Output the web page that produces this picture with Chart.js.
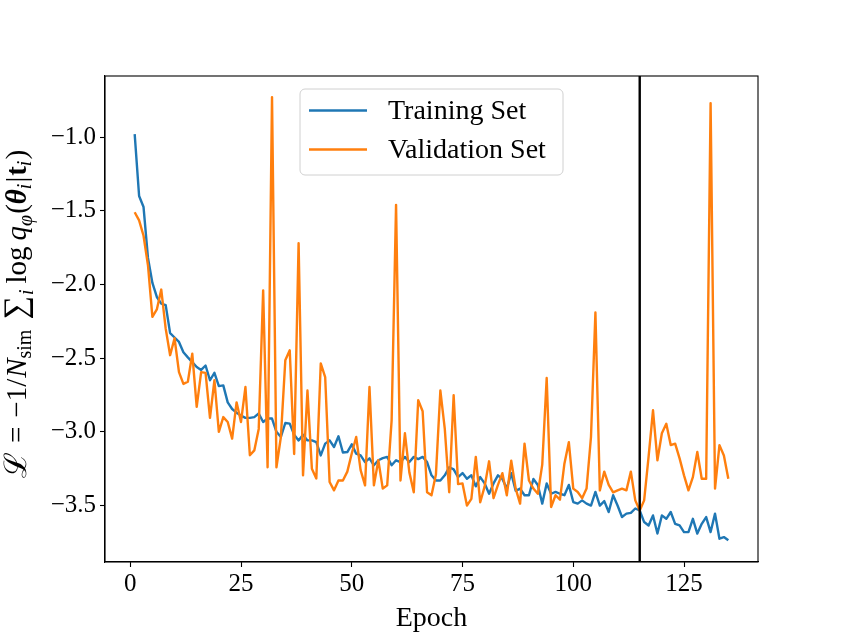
<!DOCTYPE html>
<html>
<head>
<meta charset="utf-8">
<script src="https://cdn.jsdelivr.net/npm/chart.js@4.4.1/dist/chart.umd.min.js"></script>
<style>
  html, body { margin: 0; padding: 0; background: #ffffff; }
  #wrap { width: 842px; height: 632px; }
</style>
</head>
<body>
<div id="wrap"><canvas id="c" width="842" height="632"></canvas></div>
<script>
// ---------------- data ----------------
const epochs = [1,2,3,4,5,6,7,8,9,10,11,12,13,14,15,16,17,18,19,20,
  21,22,23,24,25,26,27,28,29,30,31,32,33,34,35,36,37,38,39,40,
  41,42,43,44,45,46,47,48,49,50,51,52,53,54,55,56,57,58,59,60,
  61,62,63,64,65,66,67,68,69,70,71,72,73,74,75,76,77,78,79,80,
  81,82,83,84,85,86,87,88,89,90,91,92,93,94,95,96,97,98,99,100,
  101,102,103,104,105,106,107,108,109,110,111,112,113,114,115,116,117,118,119,120,
  121,122,123,124,125,126,127,128,129,130,131,132,133,134,135];

const trainingLoss = [
  -0.98,-1.40,-1.475,-1.82,-1.99,-2.085,-2.13,-2.14,-2.33,-2.36,
  -2.39,-2.46,-2.495,-2.527,-2.56,-2.58,-2.55,-2.65,-2.60,-2.69,
  -2.685,-2.80,-2.845,-2.87,-2.89,-2.905,-2.905,-2.90,-2.876,-2.933,
  -2.91,-2.91,-3.0,-3.035,-2.94,-2.944,-3.02,-3.058,-3.02,-3.058,
  -3.058,-3.07,-3.16,-3.08,-3.058,-3.103,-3.03,-3.14,-3.137,-3.085,
  -3.148,-3.16,-3.205,-3.18,-3.227,-3.193,-3.178,-3.17,-3.227,-3.193,
  -3.205,-3.17,-3.205,-3.17,-3.185,-3.17,-3.205,-3.295,-3.33,-3.33,
  -3.295,-3.24,-3.255,-3.307,-3.28,-3.318,-3.295,-3.37,-3.307,-3.35,
  -3.42,-3.35,-3.295,-3.32,-3.385,-3.28,-3.40,-3.385,-3.43,-3.43,
  -3.32,-3.36,-3.487,-3.35,-3.42,-3.408,-3.42,-3.43,-3.36,-3.476,
  -3.487,-3.465,-3.487,-3.50,-3.408,-3.50,-3.47,-3.544,-3.43,-3.50,
  -3.578,-3.555,-3.55,-3.52,-3.533,-3.612,-3.635,-3.567,-3.69,-3.567,
  -3.59,-3.544,-3.624,-3.635,-3.68,-3.68,-3.59,-3.69,-3.624,-3.578,
  -3.68,-3.555,-3.725,-3.714,-3.736];

const validationLoss = [
  -1.51,-1.565,-1.67,-1.87,-2.22,-2.17,-2.035,-2.30,-2.48,-2.365,
  -2.595,-2.675,-2.66,-2.47,-2.83,-2.595,-2.60,-2.905,-2.65,-3.0,
  -2.90,-2.933,-3.046,-2.80,-2.933,-2.696,-3.159,-3.126,-2.98,-2.04,
  -3.24,-0.729,-3.24,-3.035,-2.515,-2.447,-3.15,-1.72,-3.295,-2.72,
  -3.25,-3.316,-2.536,-2.628,-3.34,-3.397,-3.33,-3.33,-3.27,-3.147,
  -3.035,-3.26,-3.363,-2.696,-3.363,-3.193,-3.385,-3.363,-2.922,-1.46,
  -3.33,-3.01,-3.275,-3.41,-2.786,-2.86,-3.41,-3.43,-3.29,-2.72,
  -2.98,-3.41,-2.752,-3.355,-3.35,-3.5,-3.455,-3.17,-3.478,-3.37,
  -3.2,-3.45,-3.36,-3.28,-3.43,-3.195,-3.385,-3.487,-3.08,-3.33,
  -3.385,-3.42,-3.222,-2.635,-3.51,-3.43,-3.46,-3.216,-3.07,-3.385,
  -3.408,-3.45,-3.385,-3.035,-2.19,-3.397,-3.27,-3.36,-3.41,-3.397,
  -3.385,-3.397,-3.27,-3.465,-3.533,-3.465,-3.17,-2.854,-3.193,-3.01,
  -2.945,-3.09,-3.08,-3.18,-3.295,-3.397,-3.307,-3.137,-3.318,-3.318,
  -0.77,-3.385,-3.09,-3.16,-3.318];

const seriesLabels = ['Training Set', 'Validation Set'];
const bestEpoch = 115;
const xTickValues = [0, 25, 50, 75, 100, 125];
const yTickValues = [-3.5, -3.0, -2.5, -2.0, -1.5, -1.0];
const xAxisLabel = 'Epoch';
// ---------------------------------------

const SERIF = '"Liberation Serif", "DejaVu Serif", serif';
const BLUE = '#1f77b4', ORANGE = '#ff7f0e';

function toPoints(ys) { return epochs.map((e, i) => ({ x: e, y: ys[i] })); }

const overlay = {
  id: 'overlay',
  afterDatasetsDraw(chart) {
    const ctx = chart.ctx, a = chart.chartArea;
    const xs = chart.scales.x;
    ctx.save();
    const vx = xs.getPixelForValue(bestEpoch);
    ctx.strokeStyle = '#000'; ctx.lineWidth = 2.4;
    ctx.beginPath(); ctx.moveTo(vx, a.top); ctx.lineTo(vx, a.bottom); ctx.stroke();
    ctx.lineWidth = 1.1;
    ctx.strokeRect(a.left, a.top, a.right - a.left, a.bottom - a.top);
    ctx.restore();
  },
  afterDraw(chart) {
    const ctx = chart.ctx;
    ctx.save();
    // legend
    const bx = 300, by = 89, bw = 263, bh = 86, r = 5;
    ctx.beginPath();
    ctx.moveTo(bx + r, by); ctx.lineTo(bx + bw - r, by); ctx.arcTo(bx + bw, by, bx + bw, by + r, r);
    ctx.lineTo(bx + bw, by + bh - r); ctx.arcTo(bx + bw, by + bh, bx + bw - r, by + bh, r);
    ctx.lineTo(bx + r, by + bh); ctx.arcTo(bx, by + bh, bx, by + bh - r, r);
    ctx.lineTo(bx, by + r); ctx.arcTo(bx, by, bx + r, by, r); ctx.closePath();
    ctx.fillStyle = 'rgba(255,255,255,0.8)'; ctx.fill();
    ctx.strokeStyle = '#d0d0d0'; ctx.lineWidth = 1; ctx.stroke();
    const rows = [110.5, 149.5];
    chart.data.datasets.forEach((ds, i) => {
      ctx.strokeStyle = ds.borderColor; ctx.lineWidth = 2.4;
      ctx.beginPath(); ctx.moveTo(309, rows[i]); ctx.lineTo(367, rows[i]); ctx.stroke();
      ctx.fillStyle = '#000'; ctx.font = '28px ' + SERIF;
      ctx.textBaseline = 'middle'; ctx.textAlign = 'left';
      ctx.fillText(ds.label, 388, rows[i] + 1);
    });
    // x axis label
    ctx.font = '28px ' + SERIF; ctx.textAlign = 'center'; ctx.textBaseline = 'alphabetic';
    ctx.fillText(xAxisLabel, (chart.chartArea.left + chart.chartArea.right) / 2, 626);
    // y axis label: [text, style, size, baseline shift, gap after]
    const S = 29, s = 20;
    const segs = [
      ['ℒ', 'normal', 31, 0, 9, '"DejaVu Serif", serif'],
      ['=', 'normal', S, 0, 9],
      ['−1/', 'normal', S, 0, 1],
      ['N', 'italic', S, 0, 0],
      ['sim', 'normal', s, 5, 10],
      ['∑', 'normal', 33, 0, 1],
      ['i', 'italic', s, 7, 6],
      ['log', 'normal', S, 0, 6],
      ['q', 'italic', S, 0, 0],
      ['φ', 'italic', s, 6, 1],
      ['(', 'normal', S, 0, 0],
      ['θ', 'bold italic', S, 0, 0],
      ['i', 'italic', s, 5, 1],
      ['|', 'normal', S, 0, 1],
      ['t', 'bold', S, 0, 0],
      ['i', 'italic', s, 5, 1],
      [')', 'normal', S, 0, 0]
    ];
    const fontOf = g => `${g[1]} ${g[2]}px ${g[5] || SERIF}`;
    let total = 0;
    segs.forEach((g, k) => { ctx.font = fontOf(g); g.w = ctx.measureText(g[0]).width; total += g.w + (k < segs.length - 1 ? g[4] : 0); });
    ctx.translate(26, 314);
    ctx.rotate(-Math.PI / 2);
    ctx.textAlign = 'left'; ctx.textBaseline = 'alphabetic'; ctx.fillStyle = '#000';
    let cx = -total / 2;
    segs.forEach(g => { ctx.font = fontOf(g); ctx.fillText(g[0], cx, g[3]); cx += g.w + g[4]; });
    ctx.restore();
  }
};

const tickFont = { family: SERIF, size: 25 };
const fmtY = v => (v < 0 ? '−' : '') + Math.abs(v).toFixed(1);

new Chart(document.getElementById('c'), {
  type: 'line',
  data: {
    datasets: [
      { label: seriesLabels[0], data: toPoints(trainingLoss), borderColor: BLUE, backgroundColor: BLUE,
        borderWidth: 2.4, pointRadius: 0, tension: 0, borderJoinStyle: 'round', borderCapStyle: 'butt', order: 2 },
      { label: seriesLabels[1], data: toPoints(validationLoss), borderColor: ORANGE, backgroundColor: ORANGE,
        borderWidth: 2.4, pointRadius: 0, tension: 0, borderJoinStyle: 'round', borderCapStyle: 'butt', order: 1 }
    ]
  },
  options: {
    responsive: false,
    animation: false,
    devicePixelRatio: 1,
    layout: { padding: { left: 0, right: 84, top: 76, bottom: 0 } },
    plugins: { legend: { display: false }, tooltip: { enabled: false } },
    scales: {
      x: {
        type: 'linear', min: -5.7, max: 141.7,
        afterFit(s) { s.height = 70; },
        afterBuildTicks(s) { s.ticks = xTickValues.map(v => ({ value: v })); },
        ticks: { font: tickFont, color: '#000', padding: 2, maxRotation: 0, autoSkip: false,
                 callback: v => String(v) },
        grid: { drawOnChartArea: false, drawTicks: true, tickLength: 5, color: '#000', tickWidth: 1.1 },
        border: { color: '#000', width: 1.1 }
      },
      y: {
        type: 'linear', min: -3.883, max: -0.586,
        afterFit(s) { s.width = 105; },
        afterBuildTicks(s) { s.ticks = yTickValues.map(v => ({ value: v })); },
        ticks: { font: tickFont, color: '#000', padding: 4, autoSkip: false, callback: v => fmtY(v) },
        grid: { drawOnChartArea: false, drawTicks: true, tickLength: 5, color: '#000', tickWidth: 1.1 },
        border: { color: '#000', width: 1.1 }
      }
    }
  },
  plugins: [overlay]
});
</script>
</body>
</html>
